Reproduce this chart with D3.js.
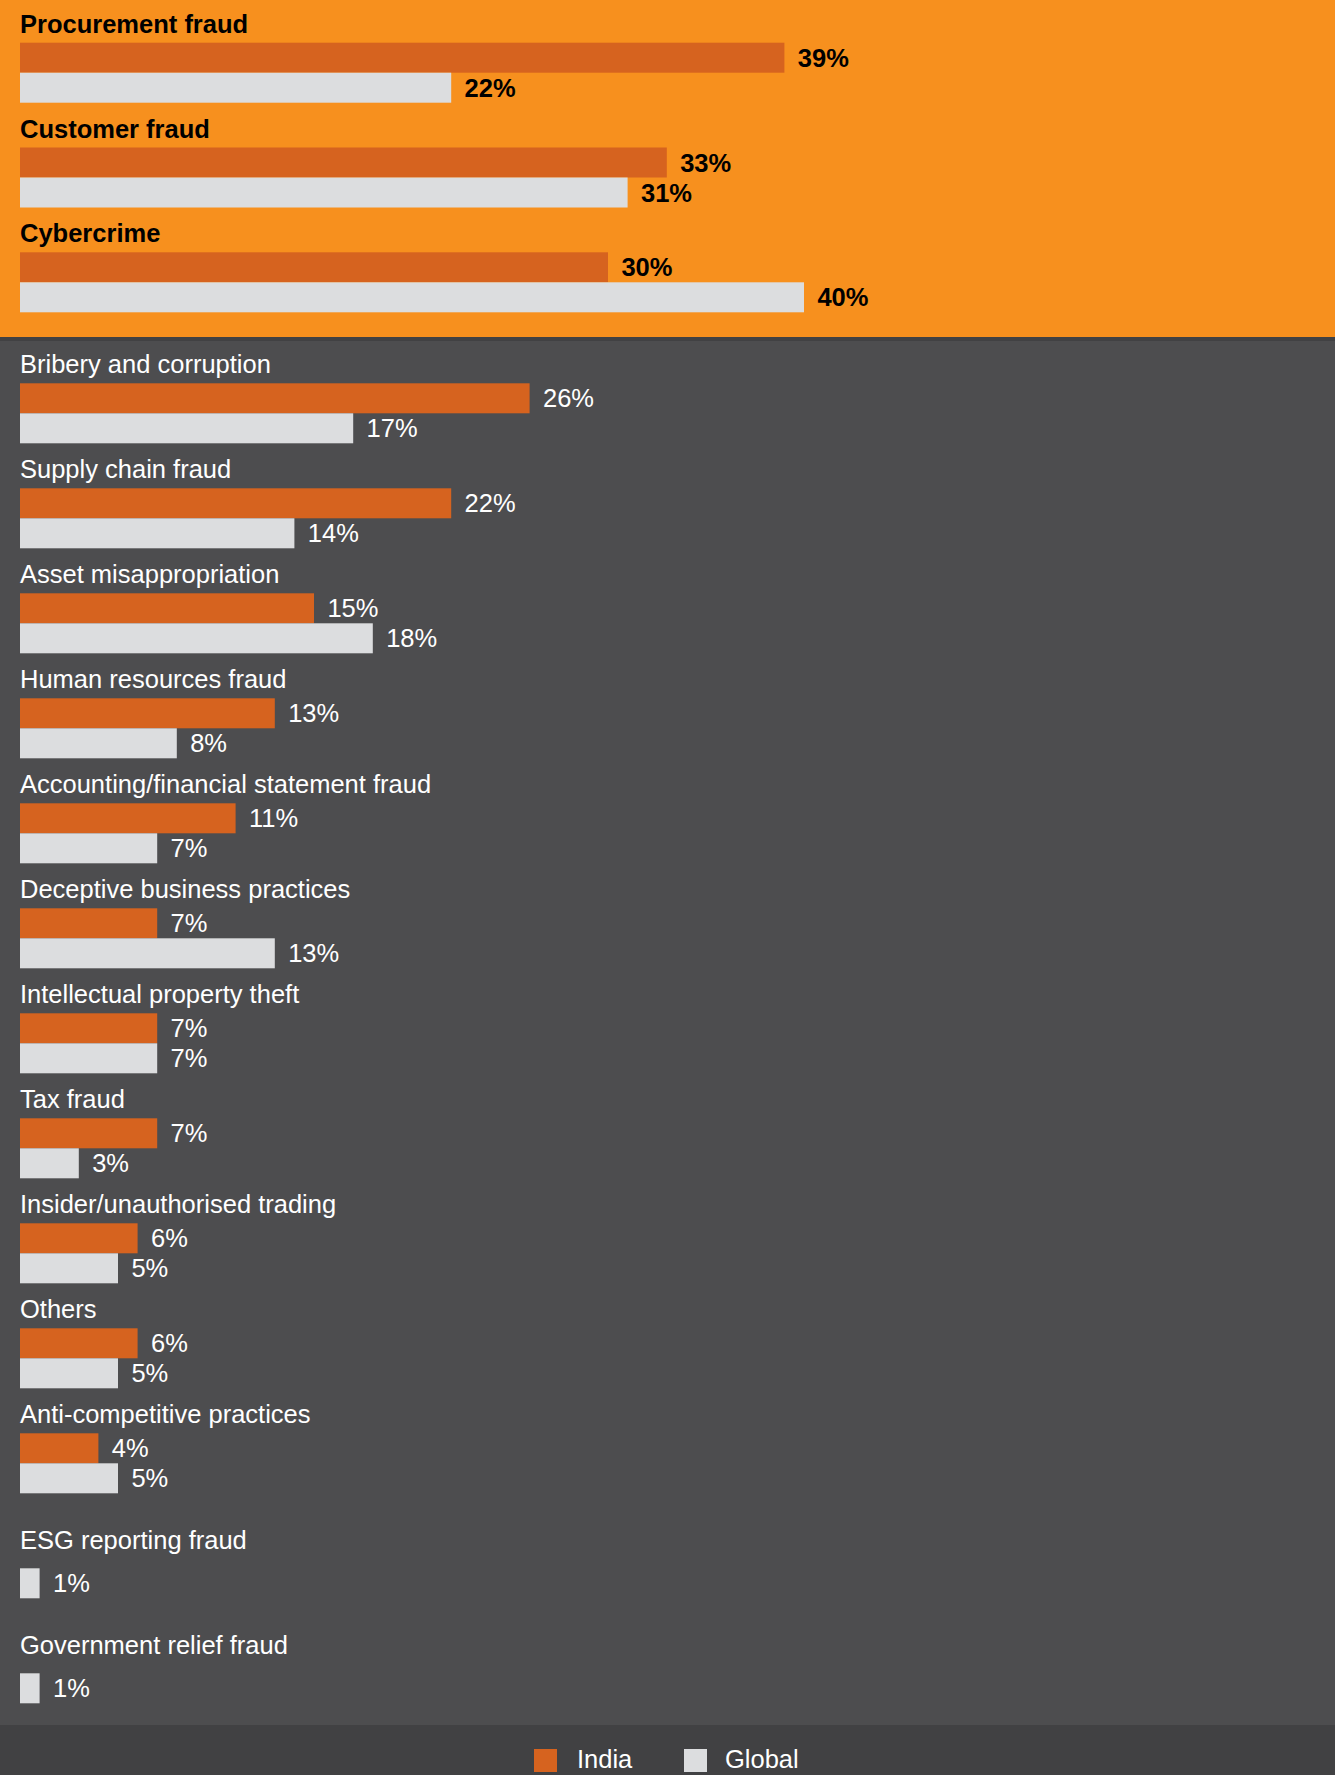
<!DOCTYPE html>
<html>
<head>
<meta charset="utf-8">
<script src="https://cdn.jsdelivr.net/npm/d3@7"></script>
<style>
  html, body { margin: 0; padding: 0; background: #4d4d4f; }
  svg { display: block; font-family: "Liberation Sans", Arial, Helvetica, sans-serif; }
</style>
</head>
<body>
<svg id="chart" width="1335" height="1775"></svg>
<script>
// Highlighted fraud types (top band)
const topCategories = ["Procurement fraud", "Customer fraud", "Cybercrime"];
const topIndia = [39, 33, 30];
const topGlobal = [22, 31, 40];

// Remaining fraud types (lower band); null = not reported for India
const bottomCategories = [
  "Bribery and corruption",
  "Supply chain fraud",
  "Asset misappropriation",
  "Human resources fraud",
  "Accounting/financial statement fraud",
  "Deceptive business practices",
  "Intellectual property theft",
  "Tax fraud",
  "Insider/unauthorised trading",
  "Others",
  "Anti-competitive practices",
  "ESG reporting fraud",
  "Government relief fraud"
];
const bottomIndia = [26, 22, 15, 13, 11, 7, 7, 7, 6, 6, 4, null, null];
const bottomGlobal = [17, 14, 18, 8, 7, 13, 7, 3, 5, 5, 5, 1, 1];

const seriesNames = ["India", "Global"];

const COLORS = {
  orangePanel: "#f7901e",
  divider: "#414143",
  grayPanel: "#4d4d4f",
  footer: "#414143",
  india: "#d6631f",
  global: "#dcdddf"
};

const W = 1335, H = 1775;
const FONT = 25.5;
const BAR_H = 30;
const LABEL_GAP = 13.4;

const svg = d3.select("#chart");

// Background bands
svg.append("rect").attr("x", 0).attr("y", 0).attr("width", W).attr("height", 337).attr("fill", COLORS.orangePanel);
svg.append("rect").attr("x", 0).attr("y", 337).attr("width", W).attr("height", 4).attr("fill", COLORS.divider);
svg.append("rect").attr("x", 0).attr("y", 341).attr("width", W).attr("height", 1384).attr("fill", COLORS.grayPanel);
svg.append("rect").attr("x", 0).attr("y", 1725).attr("width", W).attr("height", 50).attr("fill", COLORS.footer);

// Shared value scale (percent → x)
const x = d3.scaleLinear().domain([0, 40]).range([20, 804]);

// Group index → top of the group's first bar
const yTop = d3.scaleLinear().domain([0, 1]).range([42.7, 147.5]);
const yBottom = d3.scaleLinear().domain([0, 1]).range([383.3, 488.3]);

const colorScale = d3.scaleOrdinal().domain(seriesNames).range([COLORS.india, COLORS.global]);

function drawBlock(categories, india, global, yScale, opts) {
  const rows = categories.map((c, i) => ({
    name: c,
    top: yScale(i),
    values: [
      { series: "India", value: india[i] },
      { series: "Global", value: global[i] }
    ]
  }));

  const g = svg.append("g");
  const grp = g.selectAll("g.group").data(rows).join("g").attr("class", "group");

  // Category title
  grp.append("text")
    .attr("x", 20)
    .attr("y", d => d.values[0].value == null ? d.top + 11 : d.top - 10)
    .attr("font-size", FONT)
    .attr("font-weight", opts.bold ? "bold" : "normal")
    .attr("fill", opts.textColor)
    .text(d => d.name);

  const bars = grp.selectAll("g.bar")
    .data(d => d.values.map((v, j) => ({ ...v, y: d.top + j * BAR_H })).filter(v => v.value != null))
    .join("g").attr("class", "bar");

  bars.append("rect")
    .attr("x", x(0))
    .attr("y", d => d.y)
    .attr("width", d => x(d.value) - x(0))
    .attr("height", BAR_H)
    .attr("fill", d => colorScale(d.series));

  bars.append("text")
    .attr("x", d => x(d.value) + LABEL_GAP)
    .attr("y", d => d.y + BAR_H / 2 + 9)
    .attr("font-size", FONT)
    .attr("font-weight", opts.bold ? "bold" : "normal")
    .attr("fill", opts.textColor)
    .text(d => d.value + "%");
}

drawBlock(topCategories, topIndia, topGlobal, yTop, { bold: true, textColor: "#000000" });
drawBlock(bottomCategories, bottomIndia, bottomGlobal, yBottom, { bold: false, textColor: "#ffffff" });

// Legend
const legendX = [534, 684];
const legend = svg.append("g").selectAll("g").data(seriesNames).join("g")
  .attr("transform", (d, i) => `translate(${legendX[i]},1749)`);
legend.append("rect").attr("width", 23).attr("height", 23).attr("fill", d => colorScale(d));
legend.append("text")
  .attr("x", (d, i) => i === 0 ? 43 : 41)
  .attr("y", 19)
  .attr("font-size", FONT)
  .attr("fill", "#ffffff")
  .text(d => d);
</script>
</body>
</html>
